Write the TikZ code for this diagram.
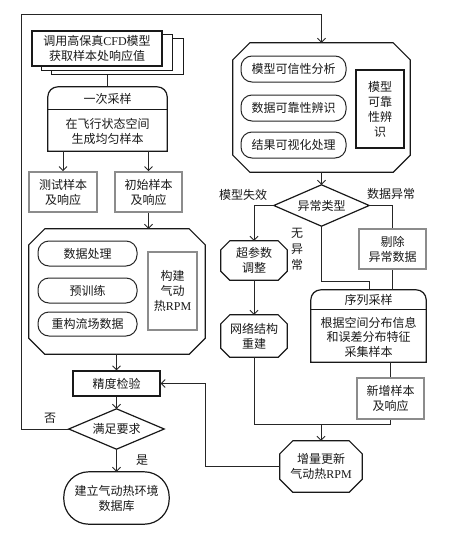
\documentclass[tikz,border=0pt]{standalone}
\usepackage{fontspec}
\setmainfont{Liberation Serif}
\newfontfamily\cjk{Noto Sans CJK SC}
\usetikzlibrary{arrows.meta,calc}
\newcommand{\mkbox}[7]{\node[#1,minimum width={#5-#3},minimum height={#6-#4}] (#2) at ({(#3+#5)/2},{(#4+#6)/2}) {#7};}
\newcommand{\octo}[2]{\draw[shp,fill=white] ($(#1.north west)+(#2,0)$) -- ($(#1.north east)+(-#2,0)$) -- ($(#1.north east)+(0,#2)$) -- ($(#1.south east)+(0,-#2)$) -- ($(#1.south east)+(-#2,0)$) -- ($(#1.south west)+(#2,0)$) -- ($(#1.south west)+(0,-#2)$) -- ($(#1.north west)+(0,#2)$) -- cycle;}
\newcommand{\dmd}[1]{\draw[shp] (#1.north) -- (#1.east) -- (#1.south) -- (#1.west) -- cycle;}
\begin{document}
\begin{tikzpicture}[x=1pt,y=-1pt,
  txt/.style={draw=none,inner sep=0pt,align=center,font=\cjk\fontsize{12}{15}\selectfont,text=black!90},
  shp/.style={draw=black!90,line width=1.2pt},
  sbox/.style={txt,shp,fill=white},
  gbox/.style={txt,draw=black!45,line width=1.6pt,fill=white},
  pill/.style={txt,draw=black!85,line width=1pt,rounded corners=11pt},
  conn/.style={draw=black!85,line width=0.9pt},
  arr/.style={conn,-{Straight Barb[length=4pt,width=8pt]}},
  lab/.style={txt,font=\cjk\fontsize{12}{16}\selectfont}
]
\useasboundingbox (0,0) rectangle (448,536);
% background nodes first (for connectors behind)
\mkbox{txt}{doc3}{52}{39}{183}{74}{}
\mkbox{txt}{s1}{48}{87}{167}{151}{}
\draw[conn] (doc3.south -| s1.north) -- (s1.north);
% stacked document
\draw[shp,fill=white] (doc3.north west) rectangle (doc3.south east);
\mkbox{txt}{doc2}{42}{35}{172}{70}{}
\draw[shp,fill=white] (doc2.north west) rectangle (doc2.south east);
\mkbox{sbox}{doc1}{32}{31}{162}{66}{调用高保真\textrm{CFD}模型\\获取样本处响应值}
% first sampling
\draw[shp] (s1.south west) [rounded corners=10pt] -- (s1.north west) -- (s1.north east) [sharp corners] -- (s1.south east) -- cycle;
\draw[shp] ($(s1.north west)+(0,23)$) -- ($(s1.north east)+(0,23)$);
\node[txt] (s1h) at (107.5,98.5) {一次采样};
\node[txt] (s1b) at (107.5,131) {在飞行状态空间\\生成均匀样本};
\mkbox{gbox}{test}{29}{172}{97}{212}{测试样本\\及响应}
\mkbox{gbox}{init}{115}{172}{182}{212}{初始样本\\及响应}
% left octagon
\mkbox{txt}{octL}{29}{229}{205}{354}{}
\octo{octL}{16}
\mkbox{pill}{dp}{38}{241}{137}{266}{数据处理}
\mkbox{pill}{pt}{38}{278}{137}{303}{预训练}
\mkbox{pill}{rc}{38}{312}{137}{336}{重构流场数据}
\mkbox{gbox}{build}{148}{252}{197}{330}{构建\\气动\\热\textrm{RPM}}
\mkbox{sbox}{check}{73}{371}{160}{396}{精度检验}
\mkbox{txt}{ok}{69}{409}{164}{449}{满足要求}
\dmd{ok}
\mkbox{txt}{db}{64}{472}{169}{524}{建立气动热环境\\数据库}
\draw[shp,rounded corners=25pt] (db.north west) rectangle (db.south east);
% right octagon
\mkbox{txt}{octR}{233}{43}{410}{172}{}
\octo{octR}{17}
\mkbox{pill}{m1}{241}{56}{346}{82}{模型可信性分析}
\mkbox{pill}{m2}{241}{95}{346}{121}{数据可靠性辨识}
\mkbox{pill}{m3}{241}{132}{346}{158}{结果可视化处理}
\mkbox{sbox}{rel}{356}{70}{404}{148}{模型\\可靠\\性辨\\识}
\mkbox{txt}{typ}{274}{185}{369}{226}{异常类型}
\dmd{typ}
\mkbox{txt}{hp}{221}{241}{287}{280}{}
\octo{hp}{9}
\node[txt] (hpt) at (hp) {超参数\\调整};
\mkbox{txt}{net}{221}{315}{287}{357}{}
\octo{net}{9}
\node[txt] (nett) at (net) {网络结构\\重建};
\mkbox{gbox}{rm}{359}{229}{426}{269}{剔除\\异常数据}
\mkbox{txt}{seq}{311}{290}{426}{362}{}
\draw[shp] (seq.south west) [rounded corners=10pt] -- (seq.north west) -- (seq.north east) [sharp corners] -- (seq.south east) -- cycle;
\draw[shp] ($(seq.north west)+(0,20)$) -- ($(seq.north east)+(0,20)$);
\node[txt] (seqh) at (368.5,300) {序列采样};
\node[txt,font=\cjk\fontsize{12}{14.5}\selectfont] (seqb) at (368.5,337) {根据空间分布信息\\和误差分布特征\\采集样本};
\mkbox{gbox}{new}{357}{378}{424}{419}{新增样本\\及响应}
\mkbox{txt}{inc}{280}{441}{362}{492}{}
\octo{inc}{13}
\node[txt] (inct) at (inc) {增量更新\\气动热\textrm{RPM}};
% connectors
\draw[arr] (s1.south -| test.north) -- (test.north);
\draw[arr] (s1.south -| init.north) -- (init.north);
\draw[arr] (init.south) -- (init.south |- octL.north);
\draw[arr] (octL.south -| check.north) -- (check.north);
\draw[arr] (check.south) -- (ok.north);
\draw[arr] (ok.south) -- (db.north);
\coordinate (cl) at (21,14);
\draw[arr] (ok.west) -| (cl) -| (octR.north);
\draw[arr] (octR.south) -- (typ.north);
\draw[arr] (typ.west) -| (hp.north);
\draw[conn] (typ.east) -| (rm.north);
\coordinate (j1) at (369,281);
\draw[conn] (typ.south) |- (j1) -- (j1 |- seq.north);
\draw[conn] (rm.south) -- (rm.south |- seq.north);
\draw[arr] (hp.south) -- (net.north);
\draw[conn] (seq.south -| new.north) -- (new.north);
\draw[conn] (new.south) -- ++(0,5) -| (net.south);
\coordinate (j2) at (321,424);
\draw[arr] (j2) -- (inc.north);
\coordinate (j3) at (205,466.5);
\draw[arr] (inc.west) -- (j3) |- (check.east);
% labels
\node[lab] (lno) at (50,418) {否};
\node[lab] (lyes) at (142,460) {是};
\node[lab] (lfail) at (243,195) {模型失效};
\node[lab] (ldata) at (391,194) {数据异常};
\node[lab] (lnone) at (297,249) {无\\异\\常};
\end{tikzpicture}
\end{document}
